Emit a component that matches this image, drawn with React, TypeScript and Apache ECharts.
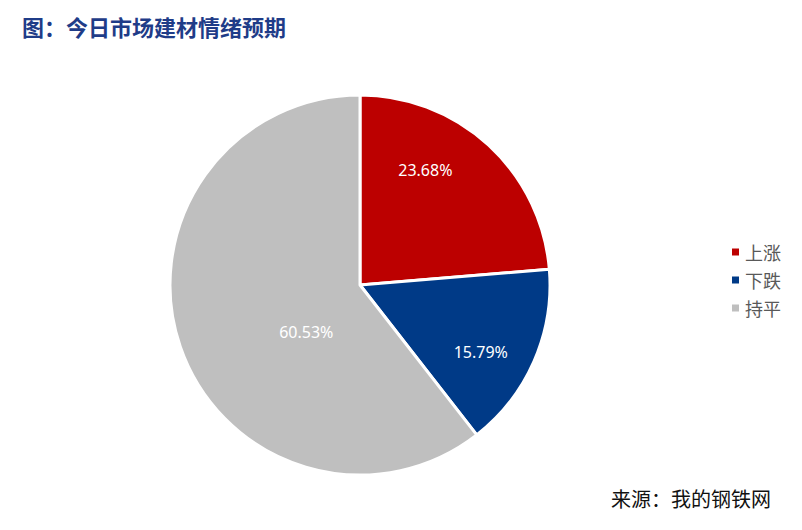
import * as echarts from "echarts";
import { useEffect, useRef } from "react";

const categories = ["上涨", "下跌", "持平"];
const counts = [9, 6, 23];
const sliceColors = ["#BC0000", "#003A87", "#BFBFBF"];
// nudge inside labels toward where the original placed them
const labelShift = [
  [-1, -43],
  [31, 28],
  [39, 15],
];

export default function App() {
  const ref = useRef<HTMLDivElement | null>(null);

  useEffect(() => {
    if (!ref.current) return;
    const chart = echarts.init(ref.current, null, { renderer: "svg" });
    chart.setOption({
      animation: false,
      backgroundColor: "#ffffff",
      title: [
        {
          text: "图：今日市场建材情绪预期",
          left: 17,
          top: 10,
          textStyle: {
            fontFamily: "Noto Sans CJK SC",
            fontSize: 22,
            fontWeight: "bold",
            color: "#1F3C88",
          },
        },
        {
          text: "来源：我的钢铁网",
          right: 26,
          top: 483,
          textStyle: {
            fontFamily: "Noto Sans CJK SC",
            fontSize: 20,
            fontWeight: "normal",
            color: "#111111",
          },
        },
      ],
      legend: {
        orient: "vertical",
        left: 725,
        top: 238,
        itemWidth: 9,
        itemHeight: 9,
        itemGap: 10,
        icon: "rect",
        data: categories,
        textStyle: { fontFamily: "Noto Sans CJK SC", fontSize: 18, color: "#595959" },
      },
      series: [
        {
          type: "pie",
          center: [360, 285],
          radius: 190,
          startAngle: 90,
          clockwise: true,
          itemStyle: { borderColor: "#ffffff", borderWidth: 3 },
          label: {
            position: "inside",
            formatter: (p: { percent: number }) => `${p.percent.toFixed(2)}%`,
            color: "#ffffff",
            fontFamily: "Noto Sans",
            fontSize: 16,
          },
          labelLayout: (p: { dataIndex: number }) => ({
            dx: labelShift[p.dataIndex][0],
            dy: labelShift[p.dataIndex][1],
          }),
          emphasis: { disabled: true },
          data: categories.map((name, i) => ({
            name,
            value: counts[i],
            itemStyle: { color: sliceColors[i] },
          })),
        },
      ],
    });
    return () => chart.dispose();
  }, []);

  return (
    <div
      ref={ref}
      style={{ position: "fixed", left: 0, top: 0, width: 802, height: 530 }}
    />
  );
}
